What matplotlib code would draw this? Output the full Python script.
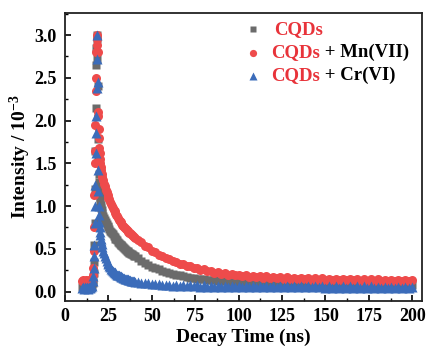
import matplotlib
matplotlib.use("Agg")
import matplotlib.pyplot as plt
from matplotlib.ticker import MultipleLocator

plt.rcParams['font.family'] = ['Liberation Serif', 'DejaVu Serif']
plt.rcParams['font.weight'] = 'bold'
plt.rcParams['mathtext.fontset'] = 'custom'
plt.rcParams['mathtext.rm'] = 'Liberation Serif:bold'
plt.rcParams['mathtext.bf'] = 'Liberation Serif:bold'
plt.rcParams['mathtext.default'] = 'bf'

# ---- time grid segments (ns) ----
t_base = [10, 10.5, 11, 11.5, 12, 12.5, 13, 13.5, 14, 14.5, 15, 15.5]
t_peak = [16.0, 16.2, 16.4, 16.6, 16.8, 17.0, 17.2, 17.4, 17.6, 17.8, 18.0, 18.2, 18.4,
          18.6, 18.8, 19.0, 19.2, 19.4, 19.6, 19.8, 20.0, 20.2, 20.4, 20.6, 20.8, 21.0]
t_early = [21.5, 22, 22.5, 23, 23.5, 24, 24.5, 25, 25.5, 26, 26.5, 27, 27.5, 28, 28.5,
           29, 29.5, 30, 30.5, 31, 31.5, 32, 32.5, 33, 33.5, 34, 34.5, 35, 35.5, 36,
           36.5, 37, 37.5, 38, 38.5, 39, 39.5, 40]
t_tail = [42, 44, 46, 48, 50, 52, 54, 56, 58, 60, 62, 64, 66, 68, 70, 72, 74, 76, 78, 80,
          82, 84, 86, 88, 90, 92, 94, 96, 98, 100, 102, 104, 106, 108, 110, 112, 114, 116, 118, 120,
          122, 124, 126, 128, 130, 132, 134, 136, 138, 140, 142, 144, 146, 148, 150, 152, 154, 156, 158, 160,
          162, 164, 166, 168, 170, 172, 174, 176, 178, 180, 182, 184, 186, 188, 190, 192, 194, 196, 198, 200]

# ---- CQDs (gray) ----
cqd_base = [0.05, 0.06, 0.04, 0.05, 0.06, 0.05, 0.04, 0.06, 0.05, 0.06, 0.05, 0.07]
cqd_peak = [0.10, 0.14, 0.22, 0.35, 0.55, 0.80, 1.20, 1.65, 2.15, 2.65, 2.85, 3.00, 2.95,
            2.72, 2.40, 1.78, 1.55, 1.38, 1.28, 1.20, 1.14, 1.09, 1.05, 1.01, 0.98, 0.95]
cqd_early = [0.92, 0.89, 0.86, 0.84, 0.81, 0.79, 0.77, 0.75, 0.73, 0.71, 0.70, 0.68, 0.67,
             0.65, 0.64, 0.62, 0.61, 0.60, 0.58, 0.57, 0.56, 0.55, 0.54, 0.53, 0.52, 0.51,
             0.50, 0.49, 0.48, 0.47, 0.465, 0.455, 0.45, 0.44, 0.435, 0.43, 0.42, 0.415]
cqd_tail = [0.39, 0.36, 0.34, 0.31, 0.29, 0.275, 0.26, 0.245, 0.232, 0.22,
            0.21, 0.20, 0.19, 0.18, 0.172, 0.165, 0.158, 0.152, 0.147, 0.142,
            0.138, 0.134, 0.13, 0.126, 0.123, 0.12, 0.117, 0.115, 0.113, 0.111,
            0.109, 0.107, 0.106, 0.104, 0.103, 0.101, 0.10, 0.099, 0.098, 0.097,
            0.096, 0.095, 0.094, 0.093, 0.092, 0.091, 0.09, 0.09, 0.089, 0.088,
            0.088, 0.087, 0.086, 0.086, 0.085, 0.085, 0.084, 0.084, 0.083, 0.083,
            0.082, 0.082, 0.081, 0.081, 0.081, 0.08, 0.08, 0.08, 0.079, 0.079,
            0.079, 0.079, 0.078, 0.078, 0.078, 0.078, 0.077, 0.077, 0.077, 0.077]

# ---- CQDs + Mn(VII) (red) ----
mn_base = [0.12, 0.13, 0.11, 0.12, 0.13, 0.12, 0.11, 0.12, 0.13, 0.12, 0.12, 0.14]
mn_peak = [0.20, 0.28, 0.48, 0.75, 1.13, 1.50, 1.65, 1.95, 2.35, 2.50, 2.80, 2.95, 3.00,
           2.88, 2.80, 2.10, 2.05, 1.90, 1.80, 1.68, 1.62, 1.55, 1.50, 1.46, 1.42, 1.38]
mn_early = [1.34, 1.30, 1.26, 1.23, 1.19, 1.16, 1.13, 1.10, 1.08, 1.05, 1.03, 1.00, 0.98,
            0.96, 0.94, 0.92, 0.90, 0.88, 0.86, 0.84, 0.83, 0.81, 0.80, 0.78, 0.77, 0.76,
            0.74, 0.73, 0.72, 0.71, 0.70, 0.69, 0.68, 0.67, 0.66, 0.65, 0.64, 0.63]
mn_tail = [0.60, 0.575, 0.535, 0.52, 0.48, 0.465, 0.43, 0.42, 0.39, 0.385,
           0.355, 0.35, 0.322, 0.32, 0.295, 0.296, 0.272, 0.276, 0.252, 0.26,
           0.236, 0.245, 0.222, 0.232, 0.21, 0.22, 0.199, 0.208, 0.189, 0.2,
           0.182, 0.193, 0.175, 0.187, 0.17, 0.183, 0.165, 0.178, 0.16, 0.174,
           0.156, 0.17, 0.153, 0.166, 0.15, 0.162, 0.146, 0.162, 0.143, 0.158,
           0.141, 0.157, 0.139, 0.155, 0.137, 0.153, 0.135, 0.15, 0.133, 0.149,
           0.131, 0.147, 0.13, 0.146, 0.128, 0.144, 0.127, 0.143, 0.125, 0.142,
           0.124, 0.14, 0.123, 0.139, 0.122, 0.137, 0.12, 0.136, 0.119, 0.133]

# ---- CQDs + Cr(VI) (blue) ----
cr_base = [0.04, 0.05, 0.03, 0.05, 0.04, 0.05, 0.04, 0.03, 0.05, 0.04, 0.05, 0.06]
cr_peak = [0.12, 0.18, 0.28, 0.42, 0.55, 0.80, 1.00, 1.25, 1.62, 1.85, 2.05, 2.38, 2.72,
           3.00, 2.45, 1.42, 1.18, 1.00, 0.90, 0.82, 0.75, 0.70, 0.66, 0.62, 0.59, 0.56]
cr_early = [0.52, 0.48, 0.45, 0.42, 0.39, 0.36, 0.34, 0.32, 0.30, 0.285, 0.27, 0.255,
            0.245, 0.235, 0.225, 0.215, 0.21, 0.20, 0.195, 0.19, 0.183, 0.178, 0.172,
            0.167, 0.162, 0.158, 0.153, 0.15, 0.146, 0.142, 0.139, 0.135, 0.132, 0.129,
            0.126, 0.123, 0.12, 0.117]
cr_tail = [0.112, 0.106, 0.10, 0.095, 0.09, 0.087, 0.084, 0.081, 0.079, 0.077,
           0.068, 0.08, 0.064, 0.078, 0.062, 0.076, 0.06, 0.074, 0.058, 0.072,
           0.057, 0.071, 0.056, 0.07, 0.055, 0.07, 0.054, 0.069, 0.054, 0.068,
           0.053, 0.068, 0.053, 0.067, 0.052, 0.067, 0.052, 0.066, 0.051, 0.066,
           0.051, 0.065, 0.05, 0.065, 0.05, 0.064, 0.05, 0.064, 0.049, 0.063,
           0.049, 0.063, 0.049, 0.062, 0.048, 0.062, 0.048, 0.062, 0.048, 0.061,
           0.047, 0.061, 0.047, 0.06, 0.047, 0.06, 0.046, 0.06, 0.046, 0.059,
           0.046, 0.059, 0.045, 0.058, 0.045, 0.058, 0.045, 0.057, 0.044, 0.056]

labels = ['CQDs', 'CQDs', 'CQDs']
suffixes = ['', ' + Mn(VII)', ' + Cr(VI)']

GRAY = '#6b6b6b'
RED = '#ee4b4b'
BLUE = '#3b6cba'
LABEL_RED = '#e8333a'

t = t_base + t_peak + t_early + t_tail
cqd = cqd_base + cqd_peak + cqd_early + cqd_tail
mn = mn_base + mn_peak + mn_early + mn_tail
cr = cr_base + cr_peak + cr_early + cr_tail

fig = plt.figure(figsize=(4.28, 3.48), dpi=100)
ax = fig.add_axes([0.152, 0.135, 0.834, 0.828])

ax.plot(t, cqd, ls='none', marker='s', ms=5.3, color=GRAY, mec='none')
ax.plot(t, mn, ls='none', marker='o', ms=6.5, color=RED, mec='none')
ax.plot(t, cr, ls='none', marker='^', ms=6.8, color=BLUE, mec='none')

ax.set_xlim(0, 205.6)
ax.set_ylim(-0.11, 3.26)
ax.xaxis.set_major_locator(MultipleLocator(25))
ax.xaxis.set_minor_locator(MultipleLocator(12.5))
ax.yaxis.set_major_locator(MultipleLocator(0.5))
ax.yaxis.set_minor_locator(MultipleLocator(0.25))
ax.tick_params(which='both', direction='in', top=False, right=False, labelsize=13)
ax.tick_params(which='major', length=4, width=1.2)
ax.tick_params(axis='x', which='major', pad=5)
ax.tick_params(axis='y', which='major', pad=6)
ax.tick_params(which='minor', length=2.5, width=1.0)
for lab in ax.get_xticklabels() + ax.get_yticklabels():
    lab.set_fontweight('bold')
for sp in ax.spines.values():
    sp.set_linewidth(1.3)
    sp.set_color('#222222')

ax.set_xlabel('Decay Time (ns)', fontsize=14, fontweight='bold', labelpad=2.5)
ax.set_ylabel('Intensity / 10$^{-3}$', fontsize=14, fontweight='bold', labelpad=1)

# legend (manual so the label can be two-coloured)
leg_y = [0.943, 0.862, 0.782]
markers = [('s', GRAY, 4.2), ('o', RED, 5.2), ('^', BLUE, 5.4)]
text_x = [0.585, 0.577, 0.577]
for i in range(3):
    m, c, s = markers[i]
    ax.plot([0.527], [leg_y[i]], ls='none', marker=m, ms=s, color=c, mec='none',
            transform=ax.transAxes, clip_on=False)
    rt = ax.text(text_x[i], leg_y[i], labels[i], transform=ax.transAxes, color=LABEL_RED,
                 fontsize=13.5, fontweight='bold', va='center', ha='left')
    if suffixes[i]:
        ax.annotate(suffixes[i], xy=(1, 0.5), xycoords=rt, va='center', ha='left',
                    fontsize=13.5, fontweight='bold', color='black')

fig.savefig('out.png', dpi=100)
